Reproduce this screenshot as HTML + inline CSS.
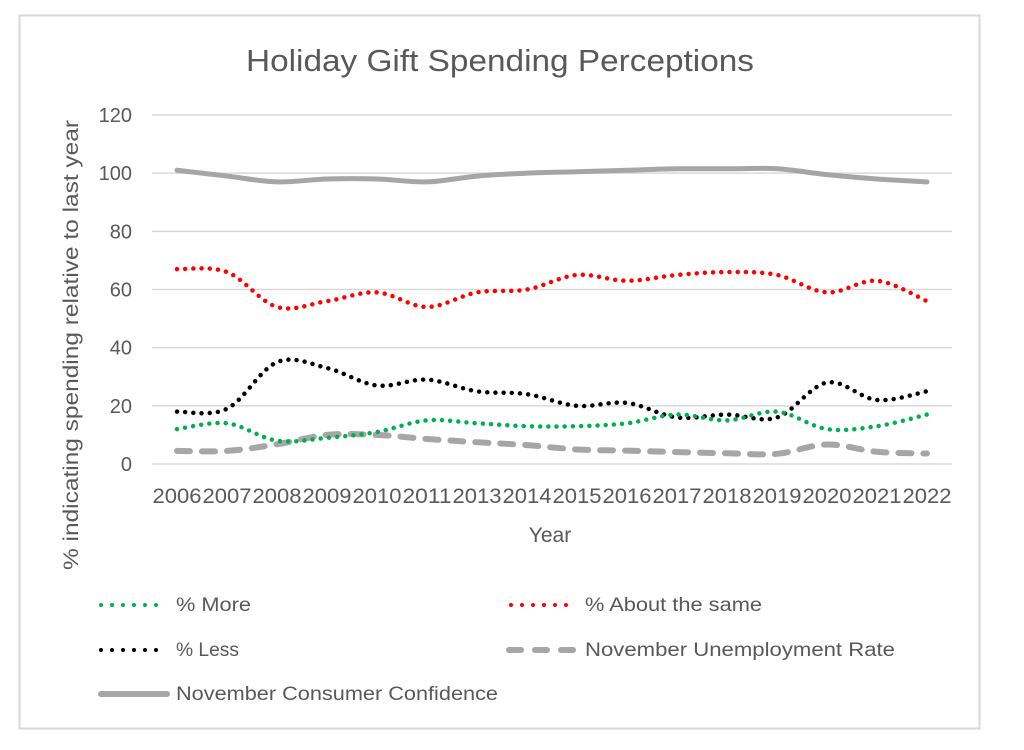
<!DOCTYPE html>
<html><head><meta charset="utf-8"><style>
html,body{margin:0;padding:0;background:#fff;}
svg text{font-family:"Liberation Sans",sans-serif;fill:#595959;}
</style></head><body>
<svg width="1024" height="745" xmlns="http://www.w3.org/2000/svg" id="chart">
<rect x="19.5" y="15.5" width="960" height="713" fill="#fff" stroke="#d9d9d9" stroke-width="2"/>
<text x="500" y="71" font-size="31" text-anchor="middle" textLength="508" lengthAdjust="spacingAndGlyphs">Holiday Gift Spending Perceptions</text>
<g id="grid"></g>
<g id="yticks"></g>
<g id="xticks"></g>
<text x="550" y="542" font-size="21" text-anchor="middle">Year</text>
<text transform="translate(78,345) rotate(-90)" font-size="21" text-anchor="middle" textLength="450" lengthAdjust="spacingAndGlyphs">% indicating spending relative to last year</text>
<g id="series"></g>
<g>
<line x1="101" y1="605" x2="167" y2="605" stroke="#00b050" stroke-width="4" stroke-linecap="round" stroke-dasharray="0 11"/>
<text x="176" y="611" font-size="19" textLength="75" lengthAdjust="spacingAndGlyphs">% More</text>
<line x1="511" y1="605" x2="577" y2="605" stroke="#ff0000" stroke-width="4" stroke-linecap="round" stroke-dasharray="0 11"/>
<text x="585" y="611" font-size="19" textLength="177" lengthAdjust="spacingAndGlyphs">% About the same</text>
<line x1="101" y1="650" x2="167" y2="650" stroke="#000" stroke-width="4" stroke-linecap="round" stroke-dasharray="0 11"/>
<text x="176" y="656" font-size="19" textLength="63" lengthAdjust="spacingAndGlyphs">% Less</text>
<line x1="509" y1="650" x2="575" y2="650" stroke="#a6a6a6" stroke-width="6" stroke-linecap="round" stroke-dasharray="12 14"/>
<text x="585" y="656" font-size="19" textLength="310" lengthAdjust="spacingAndGlyphs">November Unemployment Rate</text>
<line x1="101" y1="694" x2="167" y2="694" stroke="#a6a6a6" stroke-width="6" stroke-linecap="round"/>
<text x="176" y="700" font-size="19" textLength="322" lengthAdjust="spacingAndGlyphs">November Consumer Confidence</text>
</g>
</svg>
<script>
const years = ["2006","2007","2008","2009","2010","2011","2013","2014","2015","2016","2017","2018","2019","2020","2021","2022"];
const yTicks = [0,20,40,60,80,100,120];
const confidence = [101,99,97,98,98,97,99,100,100.5,101,101.5,101.5,101.5,99.5,98,97];
const aboutSame = [67,66,54,56,59,54,59,60,65,63,65,66,65,59,63,56];
const less = [18,19,35,33,27,29,25,24,20,21,16,17,16,28,22,25];
const more = [12,14,8,9,11,15,14,13,13,14,17,15,18,12,13,17];
const unemployment = [4.5,4.5,6.8,10,10,8.6,7.5,6.5,5,4.6,4.1,3.7,3.5,6.7,4.2,3.6];

const NS="http://www.w3.org/2000/svg";
const plotL=152, plotR=952, y0=464, y120=115;
const step=(plotR-plotL)/years.length;
function xs(i){return plotL+step*(i+0.5);}
function ys(v){return y0-(v/120)*(y0-y120);}
function mk(tag,attrs,parent){const e=document.createElementNS(NS,tag);for(const k in attrs)e.setAttribute(k,attrs[k]);parent.appendChild(e);return e;}
const grid=document.getElementById('grid'),yt=document.getElementById('yticks'),xt=document.getElementById('xticks'),ser=document.getElementById('series');
yTicks.forEach(v=>{
  const l=mk('line',{x1:plotL,x2:plotR,y1:ys(v),y2:ys(v),stroke:'#d9d9d9','stroke-width':1.5},grid);
  
  
  const t=mk('text',{x:132,y:ys(v)+7,'font-size':20,'text-anchor':'end'},yt);
  t.textContent=v;
  
  
});
years.forEach((y,i)=>{
  const t=mk('text',{x:xs(i),y:503,'font-size':21,'text-anchor':'middle',textLength:49,lengthAdjust:'spacingAndGlyphs'},xt);
  t.textContent=y;
  
  
});
function smooth(vals){
  const p=vals.map((v,i)=>[xs(i),ys(v)]);
  let d='M'+p[0][0]+','+p[0][1];
  for(let i=0;i<p.length-1;i++){
    const a=p[Math.max(0,i-1)],b=p[i],c=p[i+1],e=p[Math.min(p.length-1,i+2)];
    const t=0.17;
    d+=' C'+(b[0]+(c[0]-a[0])*t)+','+(b[1]+(c[1]-a[1])*t)+' '+(c[0]-(e[0]-b[0])*t)+','+(c[1]-(e[1]-b[1])*t)+' '+c[0]+','+c[1];
  }
  return d;
}
function series(vals,name,attrs){
  const p=mk('path',Object.assign({d:smooth(vals),fill:'none'},attrs),ser);
  
  
}
series(confidence,'series-consumer-confidence',{stroke:'#a6a6a6','stroke-width':5,'stroke-linecap':'round'});
series(unemployment,'series-unemployment-rate',{stroke:'#a6a6a6','stroke-width':6,'stroke-dasharray':'13 12','stroke-linecap':'round'});
series(aboutSame,'series-about-same',{stroke:'#ff0000','stroke-width':4.5,'stroke-dasharray':'0 8.2','stroke-linecap':'round'});
series(less,'series-less',{stroke:'#000','stroke-width':4.5,'stroke-dasharray':'0 8.2','stroke-linecap':'round'});
series(more,'series-more',{stroke:'#00b050','stroke-width':4.5,'stroke-dasharray':'0 8.2','stroke-linecap':'round'});
</script>
</body></html>
